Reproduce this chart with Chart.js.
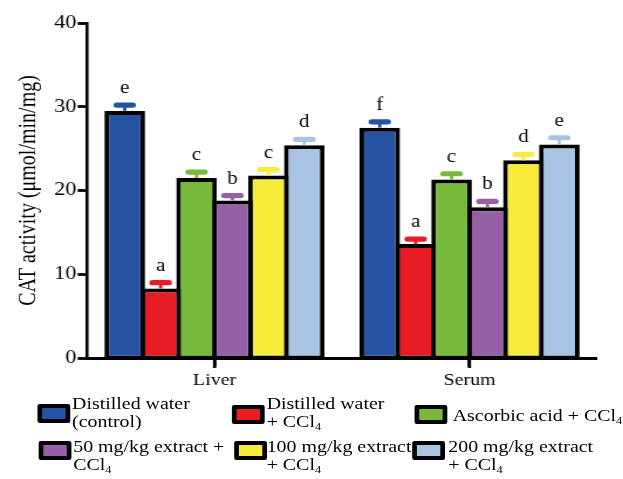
<!DOCTYPE html>
<html>
<head>
<meta charset="utf-8">
<script src="https://cdn.jsdelivr.net/npm/chart.js@4.4.1/dist/chart.umd.min.js"></script>
<style>
  html, body { margin: 0; padding: 0; background: #fff; overflow: hidden; }
  /* the figure is laid out on a 532px-wide stage and widened to the 623px page */
  #stage { position: absolute; left: 0; top: 0; width: 532px; height: 479px;
           transform-origin: 0 0; transform: scaleX(1.17105); }
  #chart { position: absolute; left: 0; top: 0; width: 532px; height: 479px; }
  .key { position: absolute; box-sizing: border-box; width: 28px; height: 19px;
         border: 4px solid #000; border-radius: 2px; }
  .lab { position: absolute; font-family: "Liberation Serif", "Times New Roman", serif;
         font-size: 17px; line-height: 18px; color: #000; white-space: nowrap; }
  .lab sub { font-size: 0.62em; line-height: 0; vertical-align: -0.3em; }
</style>
</head>
<body>
<div id="stage">
  <canvas id="chart" width="532" height="479"></canvas>
  <div id="legend"></div>
</div>
<script>
// Tissues on the x axis
const categories = ['Liver', 'Serum'];

// Treatment groups (legend text, "\n" = line break)
const groupNames = [
  'Distilled water\n(control)',
  'Distilled water\n+ CCl4',
  'Ascorbic acid + CCl4',
  '50 mg/kg extract +\nCCl4',
  '100 mg/kg extract\n+ CCl4',
  '200 mg/kg extract\n+ CCl4'
];

// Mean CAT activity (µmol/min/mg) per tissue: [Liver, Serum]
const controlVals   = [29.5, 27.5];
const ccl4Vals      = [8.3, 13.6];
const ascorbicVals  = [21.5, 21.3];
const ext50Vals     = [18.8, 18.0];
const ext100Vals    = [21.8, 23.6];
const ext200Vals    = [25.4, 25.5];

// Standard error per tissue
const controlErr  = [0.7, 0.7];
const ccl4Err     = [0.7, 0.6];
const ascorbicErr = [0.7, 0.7];
const ext50Err    = [0.6, 0.7];
const ext100Err   = [0.7, 0.7];
const ext200Err   = [0.7, 0.8];

// Significance letters per tissue
const controlSig  = ['e', 'f'];
const ccl4Sig     = ['a', 'a'];
const ascorbicSig = ['c', 'c'];
const ext50Sig    = ['b', 'b'];
const ext100Sig   = ['c', 'd'];
const ext200Sig   = ['d', 'e'];

// Y axis ticks
const yTicks = [0, 10, 20, 30, 40];

const groupColors = ['#2652a3', '#e81c24', '#78b93a', '#9660a6', '#f7ec3a', '#a8c4e2'];
const SERIF = '"Liberation Serif", "Times New Roman", serif';

const seriesVals = [controlVals, ccl4Vals, ascorbicVals, ext50Vals, ext100Vals, ext200Vals];
const seriesErr  = [controlErr, ccl4Err, ascorbicErr, ext50Err, ext100Err, ext200Err];
const seriesSig  = [controlSig, ccl4Sig, ascorbicSig, ext50Sig, ext100Sig, ext200Sig];

// Group width inside one category and how much neighbouring bars overlap,
// so adjacent bars share a single black outline.
const categoryWidth = (509.8 - 74.3) / 2;
const outline = 4;
const slot = (188 - outline) / 6;

const datasets = groupNames.map((name, i) => ({
  label: name.replace('\n', ' '),
  data: seriesVals[i],
  errors: seriesErr[i],
  letters: seriesSig[i],
  backgroundColor: groupColors[i],
  borderColor: '#000',
  borderWidth: { top: outline, left: outline, right: outline, bottom: 2 },
  borderSkipped: false,
  inflateAmount: 0,
  categoryPercentage: (slot * 6) / categoryWidth,
  barPercentage: (slot + outline) / slot
}));

// Error bars with caps in the group colour, and the letter above each cap
const errorBars = {
  id: 'errorBars',
  afterDatasetsDraw(chart) {
    const { ctx } = chart;
    const y = chart.scales.y;
    chart.data.datasets.forEach((ds, i) => {
      const meta = chart.getDatasetMeta(i);
      meta.data.forEach((bar, j) => {
        const v = ds.data[j];
        const yTop = y.getPixelForValue(v);
        const yCap = y.getPixelForValue(v + ds.errors[j]);
        ctx.save();
        ctx.strokeStyle = ds.backgroundColor;
        ctx.lineWidth = 2.8;
        ctx.beginPath();
        ctx.moveTo(bar.x, yTop);
        ctx.lineTo(bar.x, yCap);
        ctx.stroke();
        ctx.lineWidth = 5.2;
        ctx.lineCap = 'round';
        ctx.beginPath();
        ctx.moveTo(bar.x - 7, yCap);
        ctx.lineTo(bar.x + 7, yCap);
        ctx.stroke();
        ctx.fillStyle = '#000';
        ctx.font = '18px ' + SERIF;
        ctx.textAlign = 'center';
        ctx.textBaseline = 'alphabetic';
        ctx.fillText(ds.letters[j], bar.x, yCap - 12);
        ctx.restore();
      });
    });
  },
  // short marks below the x axis at each tissue
  afterDraw(chart) {
    const { ctx } = chart;
    const x = chart.scales.x;
    ctx.save();
    ctx.strokeStyle = '#000';
    ctx.lineWidth = 2.6;
    x.ticks.forEach((t, i) => {
      const px = x.getPixelForTick(i);
      ctx.beginPath();
      ctx.moveTo(px, x.top);
      ctx.lineTo(px, x.top + 10);
      ctx.stroke();
    });
    ctx.restore();
  }
};

new Chart(document.getElementById('chart'), {
  type: 'bar',
  data: { labels: categories, datasets },
  options: {
    responsive: false,
    animation: false,
    devicePixelRatio: 1,
    layout: { padding: { top: 23, right: 532 - 509.8, left: 0, bottom: 0 } },
    plugins: { legend: { display: false }, tooltip: { enabled: false } },
    scales: {
      x: {
        type: 'category',
        offset: true,
        grid: { offset: false, drawOnChartArea: false, drawTicks: true,
                tickLength: 9, tickWidth: 2.6, tickColor: '#000' },
        border: { display: true, color: '#000', width: 3, z: 1 },
        ticks: { color: '#000', font: { family: SERIF, size: 17 }, padding: 3 },
        afterFit(scale) { scale.height = 121; }
      },
      y: {
        min: 0, max: 40,
        afterBuildTicks(scale) { scale.ticks = yTicks.map(v => ({ value: v })); },
        grid: { drawOnChartArea: false, drawTicks: true,
                tickLength: 8, tickWidth: 2.8, tickColor: '#000' },
        border: { display: true, color: '#000', width: 2.6, z: 1 },
        ticks: { color: '#000', font: { family: SERIF, size: 19 }, padding: 1 },
        title: { display: true, text: 'CAT activity (μmol/min/mg)', color: '#000',
                 font: { family: SERIF, size: 20 }, padding: { top: 13, bottom: 0 } },
        afterFit(scale) { scale.width = 74.3; }
      }
    }
  },
  plugins: [errorBars]
});

// Legend: two rows of three keys, drawn as page elements
const legendSpots = [
  { key: [32.2, 404], text: [61.5, 395.3] },
  { key: [197.8, 405], text: [227.7, 395.3] },
  { key: [353.5, 405], text: [386.6, 407.0] },
  { key: [32.7, 441], text: [62.5, 438.3] },
  { key: [199.8, 441], text: [227.7, 438.3] },
  { key: [352.4, 441], text: [382.8, 438.3] }
];
const legend = document.getElementById('legend');
groupNames.forEach((name, i) => {
  const key = document.createElement('div');
  key.className = 'key';
  key.style.left = legendSpots[i].key[0] + 'px';
  key.style.top = legendSpots[i].key[1] + 'px';
  key.style.background = groupColors[i];
  legend.appendChild(key);
  const lab = document.createElement('div');
  lab.className = 'lab';
  lab.style.left = legendSpots[i].text[0] + 'px';
  lab.style.top = legendSpots[i].text[1] + 'px';
  lab.innerHTML = name.split('\n')
    .map(line => line.replace(/CCl4/g, 'CCl<sub>4</sub>'))
    .join('<br>');
  legend.appendChild(lab);
});
</script>
</body>
</html>
